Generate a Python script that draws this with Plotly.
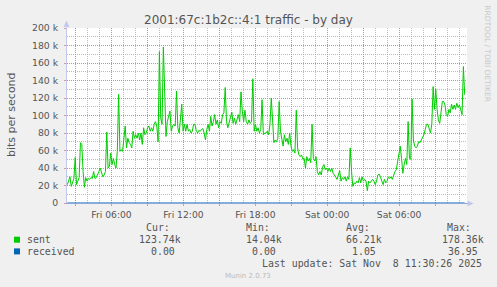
import pandas as pd
import plotly.graph_objects as go

# ---------------- data ----------------
title_text = "2001:67c:1b2c::4:1 traffic - by day"
series_names = ["sent", "received"]
series_colors = ["#00cc00", "#0066b3"]

# sampling window of the "sent" series (evenly spaced samples)
sent_start = "2025-11-07 02:18:30"
sent_end = "2025-11-08 11:28:30"

# sent, in kbit/s
sent_k = [
    21, 25, 30, 19, 25, 28, 52, 21, 25, 29,
    69, 67, 36, 18, 29, 25, 28, 27, 29, 28,
    36, 28, 29, 32, 36, 40, 34, 30, 32, 36,
    81, 40, 42, 57, 44, 51, 44, 40, 59, 124,
    59, 61, 59, 72, 88, 63, 74, 69, 67, 63,
    82, 74, 78, 74, 80, 72, 80, 67, 86, 78,
    80, 86, 88, 82, 86, 82, 90, 93, 88, 70,
    173, 97, 90, 178.36, 109, 76,
    93, 101, 105, 82, 88, 90, 88, 128, 86, 80,
    93, 113, 82, 90, 82, 90, 82, 84, 80, 82,
    90, 90, 83, 80, 83, 82, 84, 85, 80, 72,
    84, 90, 82, 99, 88, 93, 101, 90, 95, 86,
    93, 91, 101, 103, 132, 93, 86, 93, 97, 104,
    91, 97, 90, 97, 101, 93, 127, 105, 93, 106,
    93, 90, 95, 91, 93, 142, 82, 90, 82, 86,
    80, 84, 118, 78, 80, 80,
    82, 78, 90, 120, 90, 69, 72, 70, 74, 116,
    82, 72, 65, 78, 70, 74, 67, 80, 65, 59,
    61, 57, 106, 63, 55, 53, 55, 50, 51, 40,
    53, 48, 51, 46, 90, 51, 48, 53, 36, 32,
    36, 32, 41, 44, 38, 40, 36, 40, 36, 40,
    34, 32, 30, 27, 32, 37, 25, 29, 27, 30,
    25, 30, 27, 63, 36, 19, 23, 22, 25, 23,
    29, 23, 30, 25, 27,
    25, 14.04, 25, 23, 25, 27, 25, 21, 25, 32,
    33, 30, 25, 21, 27, 23, 25, 30, 28, 30,
    27, 32, 36, 38, 48, 57, 65, 51, 34, 44,
    51, 44, 93, 51, 50, 119, 72, 65, 63, 65,
    70, 69, 72, 74, 78, 84, 90, 90, 86, 80,
    90, 133, 107, 130, 107, 95, 91, 103, 116, 116,
    112, 101, 99, 107, 103, 113, 107, 112, 107, 114,
    109, 112, 105, 101, 156, 123.74,
]

# received is practically zero all day (max 36.95 bit/s)
received_times = ["2025-11-07 02:18:30", "2025-11-08 11:28:30"]
received_k = [0.0, 0.0]

# axis
x_range = ["2025-11-07 02:17", "2025-11-08 11:40"]
x_major = ["2025-11-07 03:00", "2025-11-07 06:00", "2025-11-07 09:00",
           "2025-11-07 12:00", "2025-11-07 15:00", "2025-11-07 18:00",
           "2025-11-07 21:00", "2025-11-08 00:00", "2025-11-08 03:00",
           "2025-11-08 06:00", "2025-11-08 09:00"]
x_labels = ["", "Fri 06:00", "", "Fri 12:00", "", "Fri 18:00",
            "", "Sat 00:00", "", "Sat 06:00", ""]
y_ticks = [0, 20, 40, 60, 80, 100, 120, 140, 160, 180, 200]
y_labels = ["0", "20 k", "40 k", "60 k", "80 k", "100 k", "120 k",
            "140 k", "160 k", "180 k", "200 k"]

# legend table
legend_headers = ["Cur:", "Min:", "Avg:", "Max:"]
sent_stats = ["123.74k", "14.04k", "66.21k", "178.36k"]
received_stats = ["0.00", "0.00", "1.05", "36.95"]
last_update = "Last update: Sat Nov\u00a0\u00a08 11:30:26 2025"
footer = "Munin 2.0.73"
side_text = "RRDTOOL / TOBI OETIKER"

# ---------------- figure ----------------
W, H = 497, 287
L, R, T, B = 67, 30, 28, 84
PW, PH = W - L - R, H - T - B


def px(x):
    return (x - L) / PW


def py(y):
    return (T + PH - y) / PH


sent_times = pd.date_range(sent_start, sent_end, periods=len(sent_k))

fig = go.Figure()
fig.add_trace(go.Scatter(x=received_times, y=received_k, mode="lines",
                         line=dict(color=series_colors[1], width=1),
                         name=series_names[1], hoverinfo="skip"))
fig.add_trace(go.Scatter(x=sent_times, y=sent_k, mode="lines",
                         line=dict(color=series_colors[0], width=1),
                         name=series_names[0], hoverinfo="skip"))

RED = "rgba(222,120,120,0.75)"
GRAY = "rgba(170,170,170,0.8)"
TXT = "#555555"
FONT = "DejaVu Sans"
MONO = "DejaVu Sans Mono"

fig.update_layout(
    width=W, height=H,
    margin=dict(l=L, r=R, t=T, b=B),
    paper_bgcolor="#f0f0f0", plot_bgcolor="#ffffff",
    showlegend=False, hovermode=False,
    font=dict(family=FONT, color=TXT, size=9.3),
    xaxis=dict(
        type="date", range=x_range,
        tickmode="array", tickvals=x_major, ticktext=x_labels,
        showgrid=True, gridcolor=RED, griddash="1px,1px", gridwidth=1,
        ticks="outside", ticklen=2, tickcolor=RED,
        tickfont=dict(family=FONT, size=9.2, color=TXT),
        ticklabelstandoff=1,
        minor=dict(tickmode="linear", tick0="2025-11-07 00:00", dtick=3600000,
                   showgrid=True, gridcolor=GRAY, griddash="1px,1px",
                   ticks=""),
        showline=True, linecolor="#8fa6dc", linewidth=1,
        zeroline=False, fixedrange=True,
    ),
    yaxis=dict(
        range=[0, 200],
        tickmode="array", tickvals=y_ticks, ticktext=y_labels,
        showgrid=True, gridcolor=RED, griddash="1px,1px", gridwidth=1,
        ticks="outside", ticklen=2, tickcolor=RED,
        tickfont=dict(family=FONT, size=9.3, color=TXT),
        ticklabelstandoff=4,
        minor=dict(tickmode="linear", tick0=0, dtick=10,
                   showgrid=True, gridcolor=GRAY, griddash="1px,1px",
                   ticks=""),
        showline=True, linecolor="#c4c8ec", linewidth=1,
        zeroline=False, fixedrange=True,
    ),
)

shapes = []
# axis arrows
shapes.append(dict(type="line", xref="paper", yref="paper",
                   x0=px(66.5), x1=px(66.5), y0=1, y1=py(22),
                   line=dict(color="#c4c8ec", width=1)))
shapes.append(dict(type="path", xref="paper", yref="paper",
                   path=f"M {px(63.5)} {py(27)} L {px(69.5)} {py(27)} L {px(66.5)} {py(20.5)} Z",
                   fillcolor="#c4c8ec", line=dict(width=0)))
shapes.append(dict(type="line", xref="paper", yref="paper",
                   x0=1, x1=px(471), y0=py(203.5), y1=py(203.5),
                   line=dict(color="#8fa6dc", width=1)))
shapes.append(dict(type="path", xref="paper", yref="paper",
                   path=f"M {px(467.5)} {py(200.5)} L {px(467.5)} {py(206.5)} L {px(473.5)} {py(203.5)} Z",
                   fillcolor="#c4c8ec", line=dict(width=0)))
# legend swatches
for color, y0 in zip(series_colors, [236.7, 248.4]):
    shapes.append(dict(type="rect", xref="paper", yref="paper",
                       x0=px(14), x1=px(20), y0=py(y0), y1=py(y0 + 6),
                       fillcolor=color, line=dict(width=0)))
fig.update_layout(shapes=shapes)

ann = []


def text(x, y, s, size, color=TXT, family=MONO, xanchor="left", angle=0):
    ann.append(dict(xref="paper", yref="paper", x=px(x), y=py(y), text=s,
                    showarrow=False, xanchor=xanchor, yanchor="middle",
                    textangle=angle, borderpad=0,
                    font=dict(family=family, size=size, color=color)))


text(248.5, 20, title_text, 12, family=FONT, xanchor="center")
text(10.8, 114.2, "bits per second", 11, family=FONT, xanchor="center", angle=-90)
text(488, 53.3, side_text, 7.5, color="#c8c8c8", family=FONT, xanchor="center", angle=90)

head_x = [145.7, 246, 346, 446.7]
sent_x = [139.3, 246, 346, 441.7]
recv_x = [150.7, 252, 351.7, 447.7]
for hx, h in zip(head_x, legend_headers):
    text(hx - 1, 227.7, h, 9.9)
text(25.7, 239.3, series_names[0], 9.9)
text(25.7, 251, series_names[1], 9.9)
for sx, s in zip(sent_x, sent_stats):
    text(sx - 1, 239.3, s, 9.9)
for rx, s in zip(recv_x, received_stats):
    text(rx - 1, 251, s, 9.9)
text(482.7, 263.7, last_update, 9.9, xanchor="right")
text(248, 276.3, footer, 7, color="#bbbbbb", family=FONT, xanchor="center")

fig.update_layout(annotations=ann)
fig.write_html("out.html")
